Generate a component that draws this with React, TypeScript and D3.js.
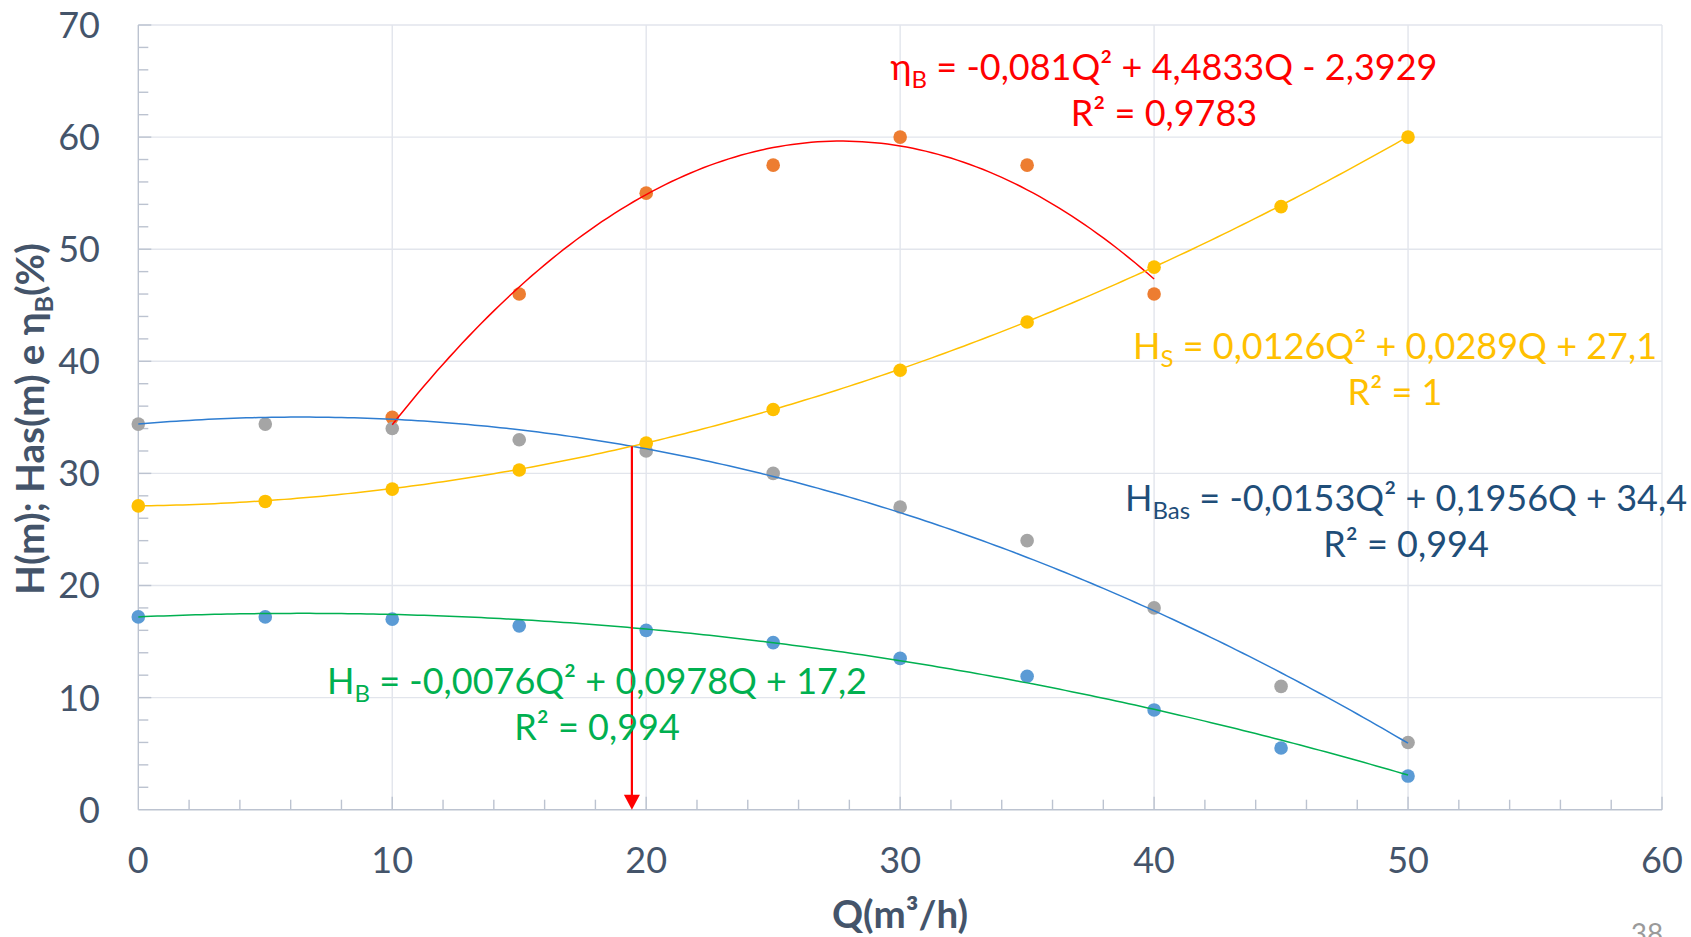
import React, { useEffect, useRef } from "react";
import * as d3 from "d3";

// measured points (Q in m³/h)
const flowQ = [0, 5, 10, 15, 20, 25, 30, 35, 40, 45, 50];
const headB = [17.2, 17.2, 17.0, 16.4, 16.0, 14.9, 13.5, 11.9, 8.9, 5.5, 3.0];
const headBas = [34.4, 34.4, 34.0, 33.0, 32.0, 30.0, 27.0, 24.0, 18.0, 11.0, 6.0];
const headS = [27.1, 27.5, 28.6, 30.3, 32.7, 35.7, 39.2, 43.5, 48.4, 53.8, 60.0];
const etaQ = [10, 15, 20, 25, 30, 35, 40];
const etaB = [35, 46, 55, 57.5, 60, 57.5, 46];

// trendline coefficients [Q², Q, 1] as printed on the chart
const fitB = [-0.0076, 0.0978, 17.2];
const fitBas = [-0.0153, 0.1956, 34.4];
const fitS = [0.0126, 0.0289, 27.1];
const fitEta = [-0.081, 4.4833, -2.3929];

const xTicks = [0, 10, 20, 30, 40, 50, 60];
const yTicks = [0, 10, 20, 30, 40, 50, 60, 70];

const W = 1691, H = 937;
const left = 138.3, right = 1662, top = 25, bottom = 809.7;
const axisColor = "#BCC3D0";
const gridColor = "#E2E5EC";
const textColor = "#44546A";
const font = "Lato, 'Open Sans', sans-serif";

const poly = (c: number[]) => (q: number) => c[0] * q * q + c[1] * q + c[2];

const App = () => {
  const ref = useRef<SVGSVGElement>(null);

  useEffect(() => {
    const svg = d3.select(ref.current);
    svg.selectAll("*").remove();

    const x = d3.scaleLinear().domain([0, 60]).range([left, right]);
    const y = d3.scaleLinear().domain([0, 70]).range([bottom, top]);

    // gridlines
    svg.append("g").selectAll("line").data(yTicks.slice(1)).enter().append("line")
      .attr("x1", left).attr("x2", right)
      .attr("y1", d => y(d)).attr("y2", d => y(d))
      .attr("stroke", gridColor).attr("stroke-width", 1.4);
    svg.append("g").selectAll("line").data(xTicks.slice(1)).enter().append("line")
      .attr("x1", d => x(d)).attr("x2", d => x(d))
      .attr("y1", top).attr("y2", bottom)
      .attr("stroke", gridColor).attr("stroke-width", 1.4);

    // axis lines + inward ticks
    const ax = svg.append("g").attr("stroke", axisColor).attr("stroke-width", 1.4);
    ax.append("line").attr("x1", left).attr("x2", left).attr("y1", top).attr("y2", bottom);
    ax.append("line").attr("x1", left).attr("x2", right).attr("y1", bottom).attr("y2", bottom);
    ax.selectAll("line.yt").data(d3.range(2, 71, 2)).enter().append("line")
      .attr("x1", left).attr("x2", d => left + (d % 10 === 0 ? 13 : 10))
      .attr("y1", d => y(d)).attr("y2", d => y(d));
    ax.selectAll("line.xt").data(d3.range(2, 61, 2)).enter().append("line")
      .attr("x1", d => x(d)).attr("x2", d => x(d))
      .attr("y1", bottom).attr("y2", d => bottom - (d % 10 === 0 ? 13 : 10));

    // tick labels
    svg.append("g").selectAll("text").data(yTicks).enter().append("text")
      .attr("x", 100).attr("y", d => y(d)).attr("dy", "0.36em")
      .attr("text-anchor", "end").attr("font-size", 36).attr("font-family", font)
      .attr("fill", textColor).text(d => d);
    svg.append("g").selectAll("text").data(xTicks).enter().append("text")
      .attr("x", d => x(d)).attr("y", 873)
      .attr("text-anchor", "middle").attr("font-size", 36).attr("font-family", font)
      .attr("fill", textColor).text(d => d);

    // axis titles
    svg.append("text").attr("x", 900).attr("y", 928)
      .attr("text-anchor", "middle").attr("font-size", 38.5).attr("font-weight", "bold")
      .attr("font-family", font).attr("fill", textColor).text("Q(m³/h)");
    const yt = svg.append("text").attr("transform", "translate(44,419) rotate(-90)")
      .attr("text-anchor", "middle").attr("font-size", 38.5).attr("font-weight", "bold")
      .attr("font-family", font).attr("fill", textColor);
    yt.append("tspan").text("H(m); Has(m) e η");
    yt.append("tspan").attr("font-size", 25).attr("dy", 9).text("B");
    yt.append("tspan").attr("dy", -9).text("(%)");

    // markers (Excel series order: HB, ηB, HBas, HS)
    const dots = (qs: number[], vs: number[], color: string) =>
      svg.append("g").selectAll("circle").data(qs).enter().append("circle")
        .attr("cx", d => x(d)).attr("cy", (_, i) => y(vs[i])).attr("r", 6.8)
        .attr("fill", color);
    dots(flowQ, headB, "#5B9BD5");
    dots(etaQ, etaB, "#ED7D31");
    dots(flowQ, headBas, "#A5A5A5");
    dots(flowQ, headS, "#FFC000");

    // trendlines
    const trend = (c: number[], q0: number, q1: number, color: string) => {
      const f = poly(c);
      const line = d3.line<number>().x(q => x(q)).y(q => y(f(q))).curve(d3.curveLinear);
      svg.append("path").datum(d3.range(q0, q1 + 0.001, 0.25))
        .attr("d", line).attr("fill", "none").attr("stroke", color).attr("stroke-width", 1.5);
    };
    trend(fitB, 0, 50, "#00B050");
    trend(fitEta, 10, 40, "#FF0000");
    trend(fitBas, 0, 50, "#2E7DD1");
    trend(fitS, 0, 50, "#FFC000");

    // operating point: HS = HBas
    const a = fitS[0] - fitBas[0], b = fitS[1] - fitBas[1], c = fitS[2] - fitBas[2];
    const qOp = (-b + Math.sqrt(b * b - 4 * a * c)) / (2 * a);
    const hOp = poly(fitS)(qOp);
    svg.append("line").attr("x1", x(qOp)).attr("x2", x(qOp))
      .attr("y1", y(hOp)).attr("y2", y(0) - 12)
      .attr("stroke", "#FF0000").attr("stroke-width", 2.2);
    svg.append("path")
      .attr("d", `M${x(qOp) - 8},${y(0) - 15} L${x(qOp) + 8},${y(0) - 15} L${x(qOp)},${y(0)} Z`)
      .attr("fill", "#FF0000");

    // equation labels
    type Part = { t: string; sub?: boolean };
    const label = (cx: number, by: number, color: string, line1: Part[], line2: string) => {
      const t = svg.append("text").attr("x", cx).attr("y", by)
        .attr("text-anchor", "middle").attr("font-size", 36).attr("font-family", font)
        .attr("fill", color);
      let shifted = false;
      line1.forEach(p => {
        const ts = t.append("tspan").text(p.t);
        if (p.sub) { ts.attr("font-size", 24).attr("dy", 8); shifted = true; }
        else if (shifted) { ts.attr("dy", -8); shifted = false; }
      });
      svg.append("text").attr("x", cx).attr("y", by + 46)
        .attr("text-anchor", "middle").attr("font-size", 36).attr("font-family", font)
        .attr("fill", color).text(line2);
    };
    label(1164, 80, "#FF0000",
      [{ t: "η" }, { t: "B", sub: true }, { t: " = -0,081Q² + 4,4833Q - 2,3929" }], "R² = 0,9783");
    label(1395, 359, "#FFC000",
      [{ t: "H" }, { t: "S", sub: true }, { t: " = 0,0126Q² + 0,0289Q + 27,1" }], "R² = 1");
    label(1406, 511, "#1F4E79",
      [{ t: "H" }, { t: "Bas", sub: true }, { t: " = -0,0153Q² + 0,1956Q + 34,4" }], "R² = 0,994");
    label(597, 694, "#00B050",
      [{ t: "H" }, { t: "B", sub: true }, { t: " = -0,0076Q² + 0,0978Q + 17,2" }], "R² = 0,994");

    // slide number, cut by the page edge
    svg.append("text").attr("x", 1647).attr("y", 944).attr("text-anchor", "middle")
      .attr("font-size", 28).attr("font-family", font).attr("fill", "#9A9A9A").text("38");
  }, []);

  return (
    <svg ref={ref} width={W} height={H}
      style={{ position: "absolute", left: 0, top: 0, background: "#fff" }} />
  );
};

export default App;
